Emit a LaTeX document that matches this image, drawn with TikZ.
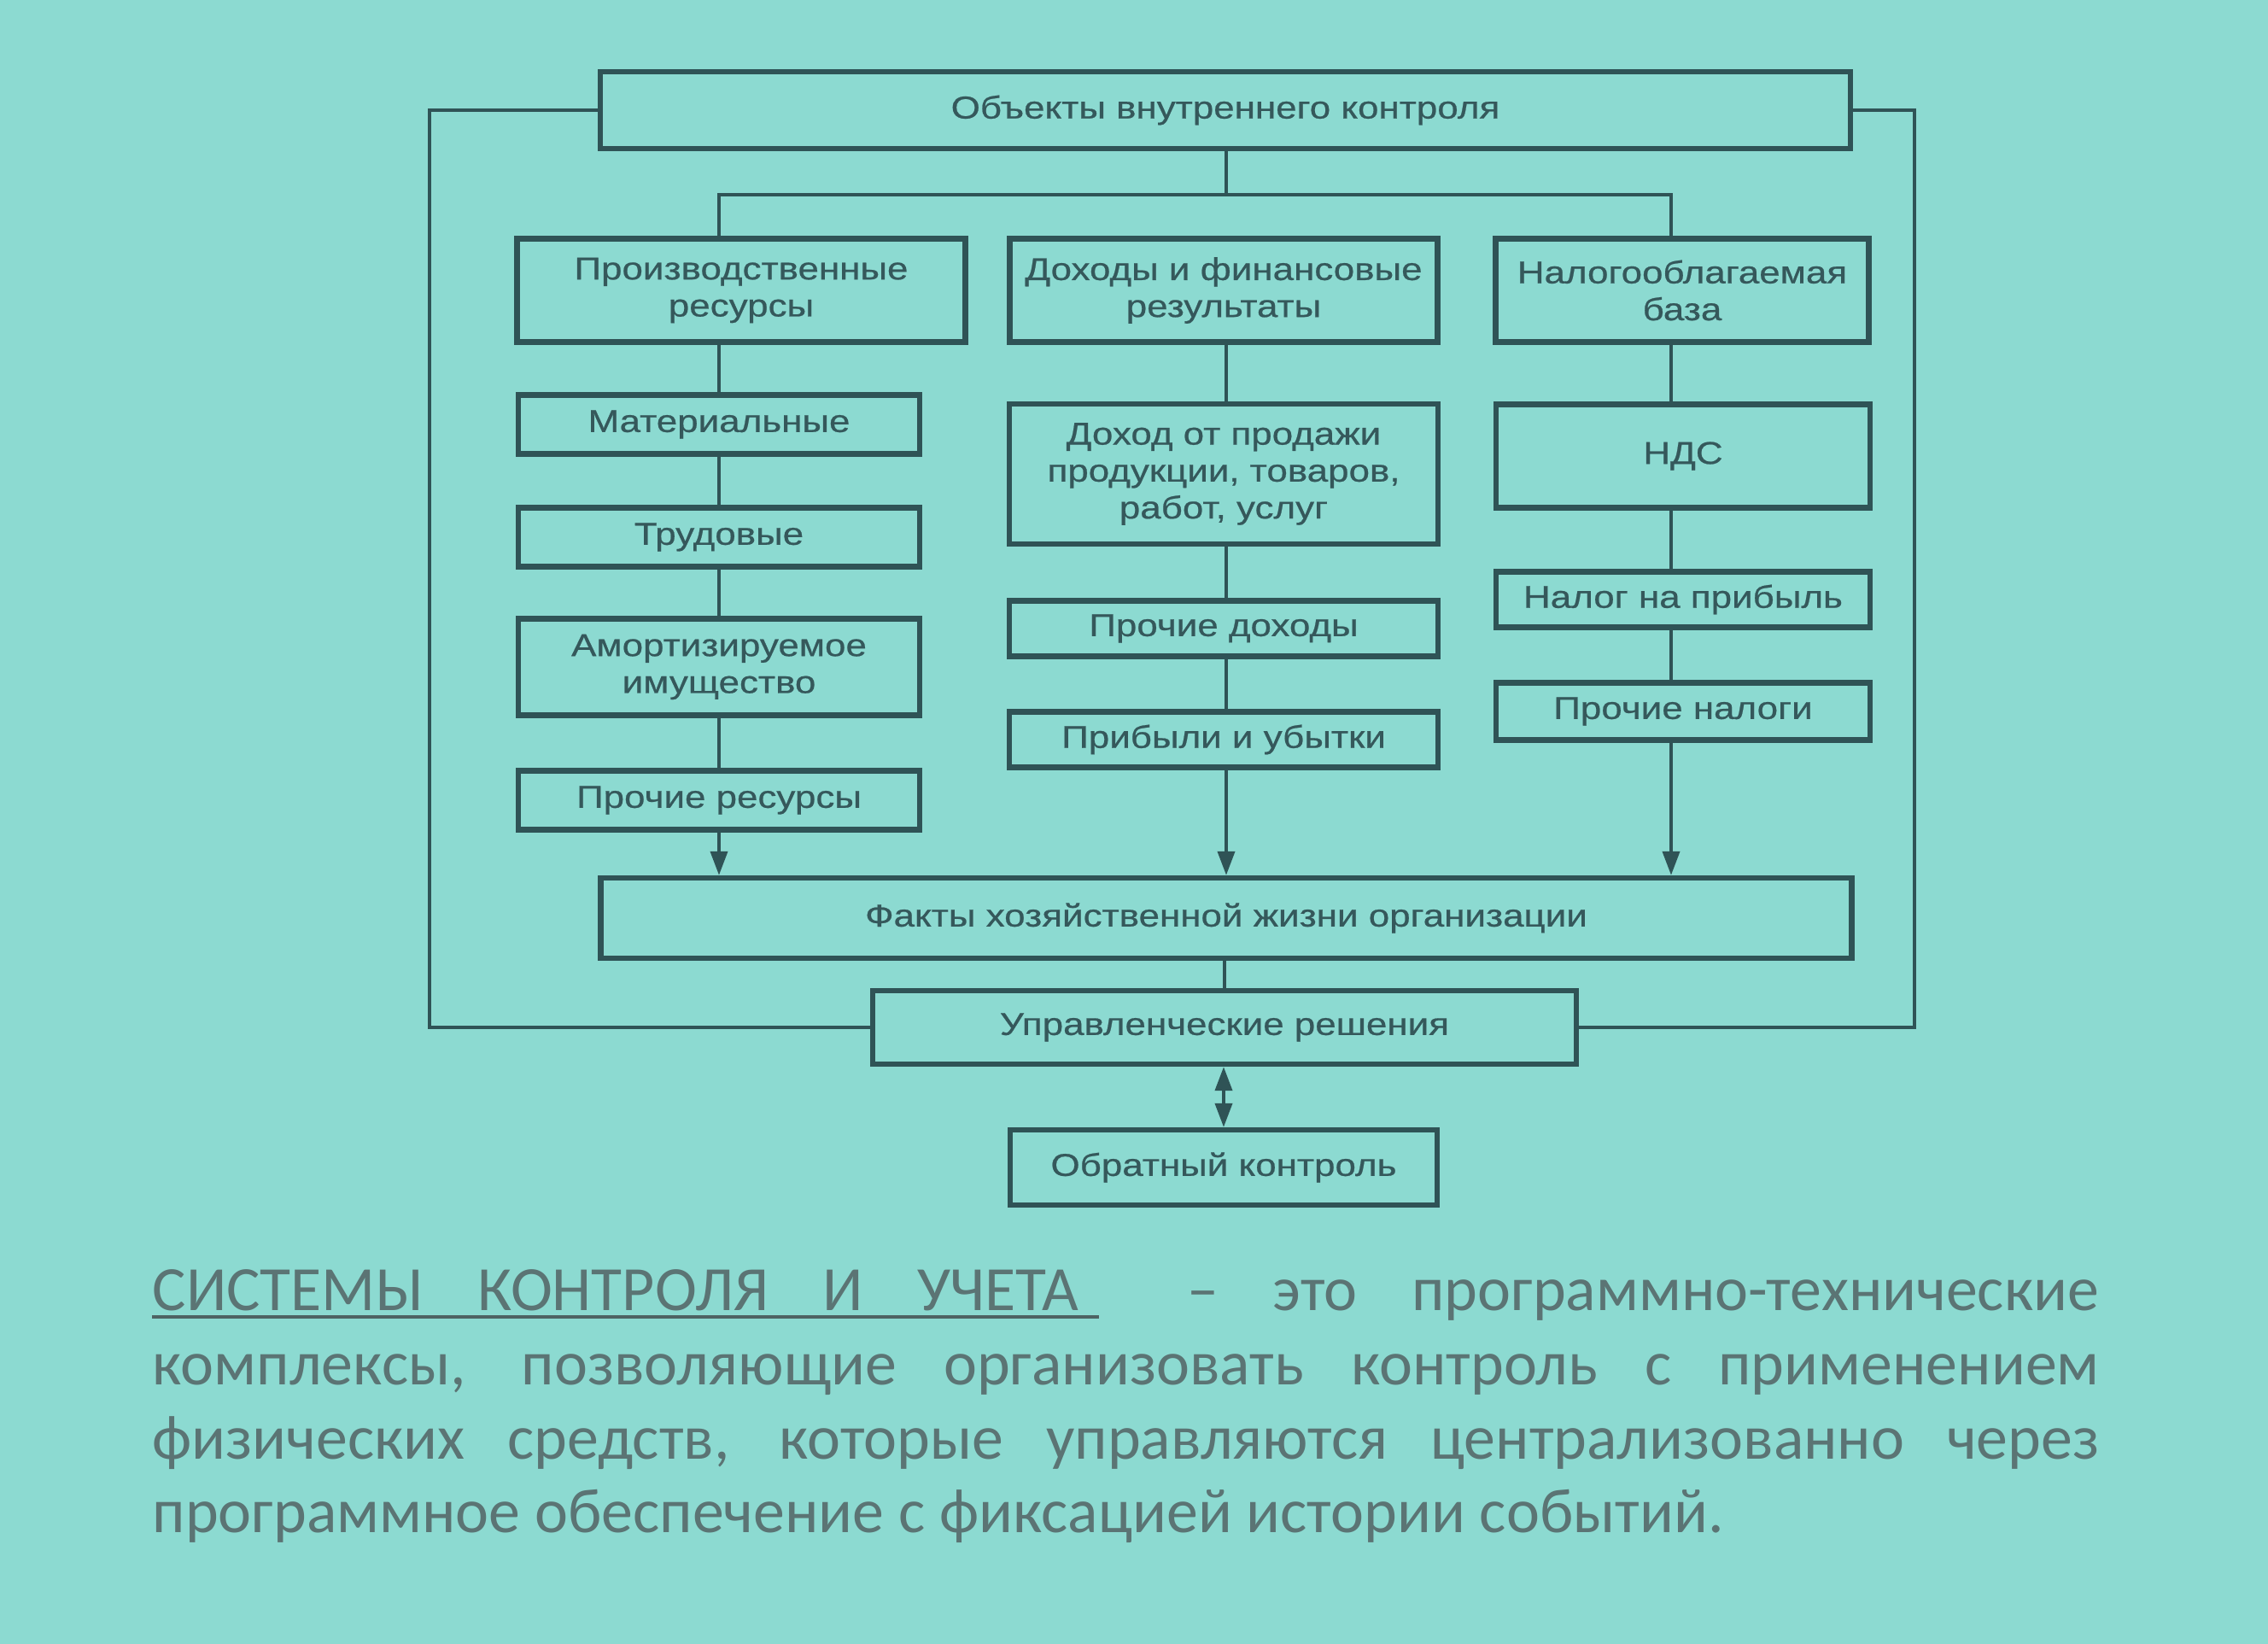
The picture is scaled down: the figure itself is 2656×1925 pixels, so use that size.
\documentclass[tikz,border=0pt]{standalone}
\usepackage{fontspec}
\setmainfont{Liberation Sans}
\newfontfamily\dfont[FakeStretch=1.19,FakeBold=0.6]{Liberation Sans}
\newfontfamily\cfont{Carlito}
\usetikzlibrary{arrows.meta}
\definecolor{bg}{HTML}{8CDAD1}
\definecolor{ink}{HTML}{2F5356}
\definecolor{txt}{HTML}{35585B}
\definecolor{para}{HTML}{5B7474}
\tikzset{
  box/.style={draw=ink, line width=1.8pt, text=txt, align=center,
    font=\dfont\fontsize{10.5}{12.3}\selectfont, inner sep=0pt},
  conn/.style={draw=ink, line width=1.1pt},
  arr/.style={conn, -{Triangle[length=0.28cm,width=0.2cm]}},
  dblarr/.style={conn, {Triangle[length=0.28cm,width=0.2cm]}-{Triangle[length=0.28cm,width=0.2cm]}},
  paratext/.style={text=para, align=justify, text width=22.78cm, inner sep=0pt,
    font=\cfont\fontsize{21}{24.66}\selectfont},
  uline/.style={draw=para!85!black, line width=1.2pt}
}
\begin{document}
\begin{tikzpicture}[x=0.01cm,y=-0.01cm]
\fill[bg] (0,0) rectangle (2656,1925);
\useasboundingbox (0,0) rectangle (2656,1925);

% column axes and rails
\coordinate (k1) at (842,0);
\coordinate (k2) at (1436,0);
\coordinate (k3) at (1957,0);
\coordinate (lx) at (503,0);
\coordinate (rx) at (2242,0);
\coordinate (bus) at (0,228);

% boxes
\node[box, minimum width=14.63cm, minimum height=0.90cm] (top) at (1435,129) {Объекты внутреннего контроля};

\node[box, minimum width=5.25cm, minimum height=1.21cm] (c1) at (868,340) {Производственные\\ресурсы};
\node[box, minimum width=5.01cm, minimum height=1.21cm] (c2) at (1433,340) {Доходы и финансовые\\результаты};
\node[box, minimum width=4.37cm, minimum height=1.21cm] (c3) at (1970,340) {Налогооблагаемая\\база};

\node[box, minimum width=4.70cm, minimum height=0.69cm] (m1) at (842,497) {Материальные};
\node[box, minimum width=4.70cm, minimum height=0.69cm] (m2) at (842,629) {Трудовые};
\node[box, minimum width=4.70cm, minimum height=1.13cm] (m3) at (842,781) {Амортизируемое\\имущество};
\node[box, minimum width=4.70cm, minimum height=0.69cm] (m4) at (842,937) {Прочие ресурсы};

\node[box, minimum width=5.02cm, minimum height=1.64cm] (d1) at (1433,555) {Доход от продажи\\продукции, товаров,\\работ, услуг};
\node[box, minimum width=5.02cm, minimum height=0.65cm] (d2) at (1433,736) {Прочие доходы};
\node[box, minimum width=5.02cm, minimum height=0.65cm] (d3) at (1433,866) {Прибыли и убытки};

\node[box, minimum width=4.38cm, minimum height=1.21cm] (n1) at (1971,534) {НДС};
\node[box, minimum width=4.38cm, minimum height=0.65cm] (n2) at (1971,702) {Налог на прибыль};
\node[box, minimum width=4.38cm, minimum height=0.67cm] (n3) at (1971,833) {Прочие налоги};

\node[box, minimum width=14.64cm, minimum height=0.94cm] (f) at (1436,1075) {Факты хозяйственной жизни организации};
\node[box, minimum width=8.24cm, minimum height=0.86cm] (u) at (1434,1203) {Управленческие решения};
\node[box, minimum width=5.00cm, minimum height=0.88cm] (o) at (1433,1367) {Обратный контроль};

% branching from the top box
\draw[conn] (top.south -| k2) -- (k2 |- bus);
\draw[conn] (c1.north -| k1) -- (k1 |- bus) -- (k3 |- bus) -- (c3.north -| k3);

% column chains
\draw[conn] (c1.south -| k1) -- (m1.north -| k1);
\draw[conn] (m1.south -| k1) -- (m2.north -| k1);
\draw[conn] (m2.south -| k1) -- (m3.north -| k1);
\draw[conn] (m3.south -| k1) -- (m4.north -| k1);
\draw[arr]  (m4.south -| k1) -- (f.north -| k1);

\draw[conn] (c2.south -| k2) -- (d1.north -| k2);
\draw[conn] (d1.south -| k2) -- (d2.north -| k2);
\draw[conn] (d2.south -| k2) -- (d3.north -| k2);
\draw[arr]  (d3.south -| k2) -- (f.north -| k2);

\draw[conn] (c3.south -| k3) -- (n1.north -| k3);
\draw[conn] (n1.south -| k3) -- (n2.north -| k3);
\draw[conn] (n2.south -| k3) -- (n3.north -| k3);
\draw[arr]  (n3.south -| k3) -- (f.north -| k3);

% lower part
\draw[conn] (f.south -| u.north) -- (u.north);
\draw[dblarr] (u.south -| o.north) -- (o.north);

% outer feedback loop
\draw[conn] (top.west) -| (lx |- u.west) -- (u.west);
\draw[conn] (top.east) -| (rx |- u.east) -- (u.east);

% definition paragraph
\node[paratext, anchor=north west] (def) at (178,1486) {СИСТЕМЫ КОНТРОЛЯ И УЧЕТА~ – это программно-технические\linebreak
комплексы, позволяющие организовать контроль с применением\linebreak
физических средств, которые управляются централизованно через\linebreak
программное обеспечение с фиксацией истории событий.};
\draw[uline] (def.north west) ++(0,56) coordinate (ua) -- ++(1109,0) coordinate (ub);
\end{tikzpicture}
\end{document}
